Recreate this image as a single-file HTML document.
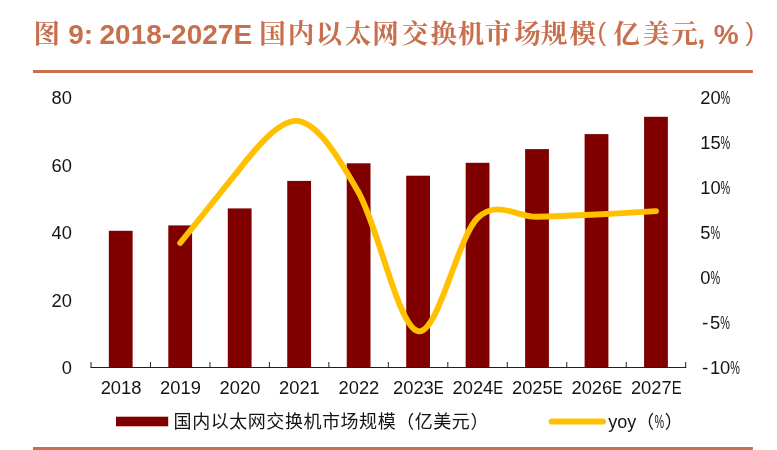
<!DOCTYPE html>
<html lang="zh-CN"><head><meta charset="utf-8"><title>图 9</title>
<style>
html,body{margin:0;padding:0;background:#fff;}
body{width:777px;height:450px;overflow:hidden;}
svg{display:block;}
.tt{font-family:"Liberation Sans","Noto Serif CJK SC",serif;}
.tk{font-family:"Liberation Serif","Noto Serif CJK SC",serif;font-weight:bold;}
.lb{font-family:"Liberation Sans","Noto Sans CJK SC",sans-serif;}
.lg{font-family:"Liberation Sans","Noto Sans CJK SC",sans-serif;}
</style></head><body>
<svg width="777" height="450" viewBox="0 0 777 450">
<rect width="777" height="450" fill="#fff"/>
<text y="44" font-size="28" font-weight="bold" fill="#C8704E" class="tt"><tspan class="tk" font-size="26.5" y="43.0" x="33.60">图 </tspan><tspan x="68.20" y="44">9: </tspan><tspan x="99.50" y="44">2018-2027E </tspan><tspan class="tk" font-size="26.5" y="43.0" x="259.25 287.65 315.65 344.65 372.15 401.75 430.55 457.75 484.85 514.35 540.65 569.55">国内以太网交换机市场规模</tspan><tspan x="597.60" y="40.6" font-size="26" font-weight="normal">( </tspan><tspan class="tk" font-size="26.5" y="43.0" x="613.25 642.75 671.25">亿美元</tspan><tspan x="697.60" y="44">, </tspan><tspan x="713.80" y="44">% </tspan><tspan x="745.60" y="40.6" font-size="26" font-weight="normal">)</tspan></text>
<rect x="33" y="70" width="719.9" height="3" fill="#C8704E"/>
<rect x="33" y="447" width="719.9" height="3" fill="#C8704E"/>
<rect x="108.83" y="230.80" width="23.8" height="136.40" fill="#800000"/>
<rect x="168.30" y="225.40" width="23.8" height="141.80" fill="#800000"/>
<rect x="227.78" y="208.40" width="23.8" height="158.80" fill="#800000"/>
<rect x="287.25" y="180.90" width="23.8" height="186.30" fill="#800000"/>
<rect x="346.72" y="163.30" width="23.8" height="203.90" fill="#800000"/>
<rect x="406.19" y="175.70" width="23.8" height="191.50" fill="#800000"/>
<rect x="465.66" y="162.80" width="23.8" height="204.40" fill="#800000"/>
<rect x="525.12" y="149.10" width="23.8" height="218.10" fill="#800000"/>
<rect x="584.60" y="134.10" width="23.8" height="233.10" fill="#800000"/>
<rect x="644.07" y="116.80" width="23.8" height="250.40" fill="#800000"/>
<path d="M90.5 367.5H686.20M91.00 367.5V362.0M150.47 367.5V362.0M209.94 367.5V362.0M269.41 367.5V362.0M328.88 367.5V362.0M388.35 367.5V362.0M447.82 367.5V362.0M507.29 367.5V362.0M566.76 367.5V362.0M626.23 367.5V362.0M685.70 367.5V362.0" stroke="#1f1f1f" stroke-width="1" fill="none"/>
<path d="M180.20 243.00C200.03 218.27 219.85 193.53 239.68 168.80C251.68 153.80 279.32 117.25 299.14 121.20C318.97 125.15 338.79 157.50 358.62 192.50C378.44 227.50 398.26 326.95 418.08 331.20C437.91 335.45 457.73 237.07 477.56 218.00C497.38 198.93 517.20 217.38 537.02 216.80C556.85 216.22 576.67 215.45 596.50 214.50C616.32 213.55 646.05 211.67 655.97 211.10" stroke="#FFC000" stroke-width="5.9" fill="none" stroke-linecap="round" stroke-linejoin="round"/>
<text transform="translate(61.70 374.20) scale(0.9655 1)" font-size="19.0" fill="#141414" class="lb">0</text>
<text transform="translate(51.49 306.65) scale(0.9655 1)" font-size="19.0" fill="#141414" class="lb">20</text>
<text transform="translate(51.49 239.10) scale(0.9655 1)" font-size="19.0" fill="#141414" class="lb">40</text>
<text transform="translate(51.49 171.55) scale(0.9655 1)" font-size="19.0" fill="#141414" class="lb">60</text>
<text transform="translate(51.49 104.00) scale(0.9655 1)" font-size="19.0" fill="#141414" class="lb">80</text>
<text transform="translate(701.90 374.20) scale(1.0000 1)" font-size="19.0" fill="#141414" class="lb">-</text><text transform="translate(709.93 374.20) scale(0.9655 1)" font-size="19.0" fill="#141414" class="lb">10</text><text transform="translate(730.33 374.20) scale(0.5700 1)" font-size="19.0" fill="#141414" class="lb">%</text>
<text transform="translate(701.90 329.17) scale(1.0000 1)" font-size="19.0" fill="#141414" class="lb">-</text><text transform="translate(709.93 329.17) scale(0.9655 1)" font-size="19.0" fill="#141414" class="lb">5</text><text transform="translate(720.13 329.17) scale(0.5700 1)" font-size="19.0" fill="#141414" class="lb">%</text>
<text transform="translate(700.20 284.13) scale(0.9655 1)" font-size="19.0" fill="#141414" class="lb">0</text><text transform="translate(710.40 284.13) scale(0.5700 1)" font-size="19.0" fill="#141414" class="lb">%</text>
<text transform="translate(700.20 239.10) scale(0.9655 1)" font-size="19.0" fill="#141414" class="lb">5</text><text transform="translate(710.40 239.10) scale(0.5700 1)" font-size="19.0" fill="#141414" class="lb">%</text>
<text transform="translate(700.20 194.07) scale(0.9655 1)" font-size="19.0" fill="#141414" class="lb">10</text><text transform="translate(720.61 194.07) scale(0.5700 1)" font-size="19.0" fill="#141414" class="lb">%</text>
<text transform="translate(700.20 149.03) scale(0.9655 1)" font-size="19.0" fill="#141414" class="lb">15</text><text transform="translate(720.61 149.03) scale(0.5700 1)" font-size="19.0" fill="#141414" class="lb">%</text>
<text transform="translate(700.20 104.00) scale(0.9655 1)" font-size="19.0" fill="#141414" class="lb">20</text><text transform="translate(720.61 104.00) scale(0.5700 1)" font-size="19.0" fill="#141414" class="lb">%</text>
<text transform="translate(100.63 394.00) scale(0.9655 1)" font-size="19.0" fill="#141414" class="lb">2018</text>
<text transform="translate(160.10 394.00) scale(0.9655 1)" font-size="19.0" fill="#141414" class="lb">2019</text>
<text transform="translate(219.57 394.00) scale(0.9655 1)" font-size="19.0" fill="#141414" class="lb">2020</text>
<text transform="translate(279.04 394.00) scale(0.9655 1)" font-size="19.0" fill="#141414" class="lb">2021</text>
<text transform="translate(338.51 394.00) scale(0.9655 1)" font-size="19.0" fill="#141414" class="lb">2022</text>
<text transform="translate(393.04 394.00) scale(0.9655 1)" font-size="19.0" fill="#141414" class="lb">2023</text><text transform="translate(433.85 394.00) scale(0.7800 1)" font-size="19.0" fill="#141414" class="lb">E</text>
<text transform="translate(452.51 394.00) scale(0.9655 1)" font-size="19.0" fill="#141414" class="lb">2024</text><text transform="translate(493.32 394.00) scale(0.7800 1)" font-size="19.0" fill="#141414" class="lb">E</text>
<text transform="translate(511.98 394.00) scale(0.9655 1)" font-size="19.0" fill="#141414" class="lb">2025</text><text transform="translate(552.79 394.00) scale(0.7800 1)" font-size="19.0" fill="#141414" class="lb">E</text>
<text transform="translate(571.45 394.00) scale(0.9655 1)" font-size="19.0" fill="#141414" class="lb">2026</text><text transform="translate(612.26 394.00) scale(0.7800 1)" font-size="19.0" fill="#141414" class="lb">E</text>
<text transform="translate(630.92 394.00) scale(0.9655 1)" font-size="19.0" fill="#141414" class="lb">2027</text><text transform="translate(671.73 394.00) scale(0.7800 1)" font-size="19.0" fill="#141414" class="lb">E</text>
<rect x="116" y="416.7" width="52.2" height="9.6" fill="#800000"/>
<text x="173.6" y="428" font-size="18" letter-spacing="0.55" fill="#141414" class="lg">国内以太网交换机市场规模（亿美元）</text>
<path d="M551.7 421.4H603" stroke="#FFC000" stroke-width="6" stroke-linecap="round"/>
<text x="608.2" y="428" font-size="18" fill="#141414" class="lg">yoy</text><text x="636.2" y="428" font-size="18" fill="#141414" class="lg">（</text><text transform="translate(654.6 427.6) scale(0.6 1)" font-size="18" fill="#141414" class="lb">%</text><text x="664.8" y="428" font-size="18" fill="#141414" class="lg">）</text>
</svg>
</body></html>
